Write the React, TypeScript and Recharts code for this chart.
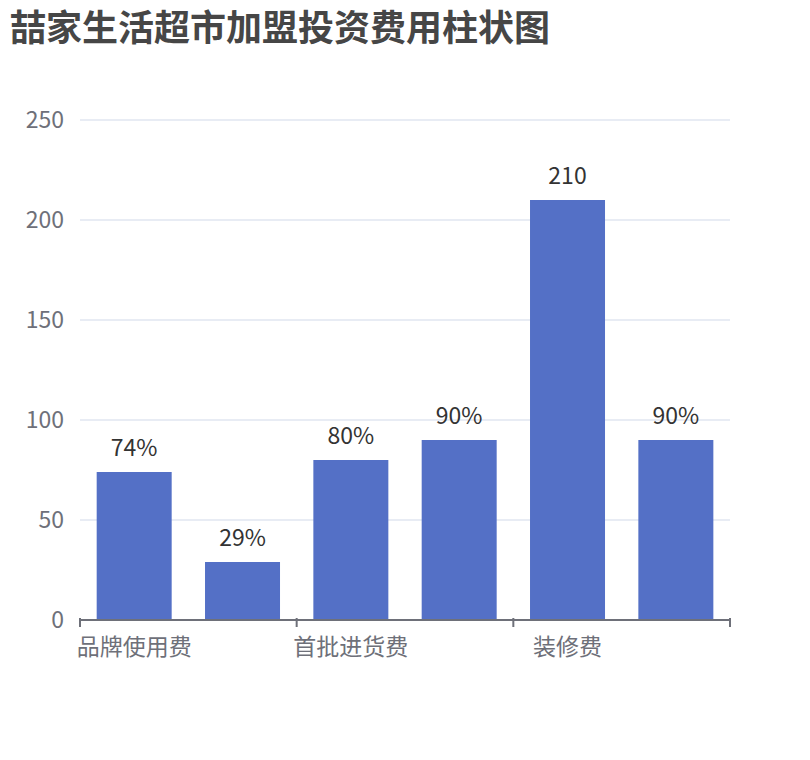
import { BarChart, Bar, XAxis, YAxis, CartesianGrid, LabelList } from "recharts";

const categories = ["品牌使用费", "保证金", "首批进货费", "设备费", "装修费", "流动资金"];
const values = [74, 29, 80, 90, 210, 90];
const valueLabels = ["74%", "29%", "80%", "90%", "210", "90%"];
const yTicks = [0, 50, 100, 150, 200, 250];

const FONT = '"Noto Sans CJK SC", "Noto Sans", sans-serif';
const AXIS_COLOR = "#6E7079";

const data = categories.map((name, i) => ({ name, value: values[i], label: valueLabels[i] }));

// plot width / number of categories, used if the tick payload carries no offset
const FALLBACK_HALF_BAND = 650 / categories.length / 2;

const CategoryTick = (props: any) => {
  const { x, y, payload, index } = props;
  const half = payload && payload.offset ? payload.offset : FALLBACK_HALF_BAND;
  const axisY = y - 10;
  const last = index === categories.length - 1;
  const showLabel = index % 2 === 0;
  return (
    <g>
      {showLabel && (
        <line x1={x - half} x2={x - half} y1={axisY} y2={axisY + 9} stroke={AXIS_COLOR} strokeWidth={2} />
      )}
      {last && (
        <line x1={x + half} x2={x + half} y1={axisY} y2={axisY + 9} stroke={AXIS_COLOR} strokeWidth={2} />
      )}
      {showLabel && (
        <text x={x} y={axisY + 27} textAnchor="middle" dominantBaseline="central" fill={AXIS_COLOR} fontSize={23} fontFamily={FONT}>
          {payload.value}
        </text>
      )}
    </g>
  );
};

export default function App() {
  return (
    <div style={{ position: "relative", width: 810, height: 760, background: "#fff" }}>
      <style>{`body{margin:0}`}</style>
      <div
        style={{
          position: "absolute",
          left: 10,
          top: 7,
          fontSize: 36,
          lineHeight: "36px",
          fontWeight: 700,
          color: "#464646",
          fontFamily: FONT,
          whiteSpace: "nowrap",
        }}
      >
        喆家生活超市加盟投资费用柱状图
      </div>
      <BarChart
        width={810}
        height={760}
        data={data}
        margin={{ top: 120, right: 80, left: 0, bottom: 100 }}
        barCategoryGap="15.4%"
      >
        <CartesianGrid vertical={false} stroke="#E0E6F1" strokeWidth={1.5} />
        <XAxis
          dataKey="name"
          interval={0}
          height={40}
          axisLine={{ stroke: AXIS_COLOR, strokeWidth: 2 }}
          tickLine={false}
          tick={<CategoryTick />}
        />
        <YAxis
          width={80}
          domain={[0, 250]}
          ticks={yTicks}
          axisLine={false}
          tickLine={false}
          tickMargin={10}
          tick={{ fill: AXIS_COLOR, fontSize: 23, fontFamily: FONT }}
        />
        <Bar dataKey="value" fill="#5470C6" isAnimationActive={false}>
          <LabelList dataKey="label" position="top" offset={16} fill="#333" fontSize={23} fontFamily={FONT} />
        </Bar>
      </BarChart>
    </div>
  );
}
